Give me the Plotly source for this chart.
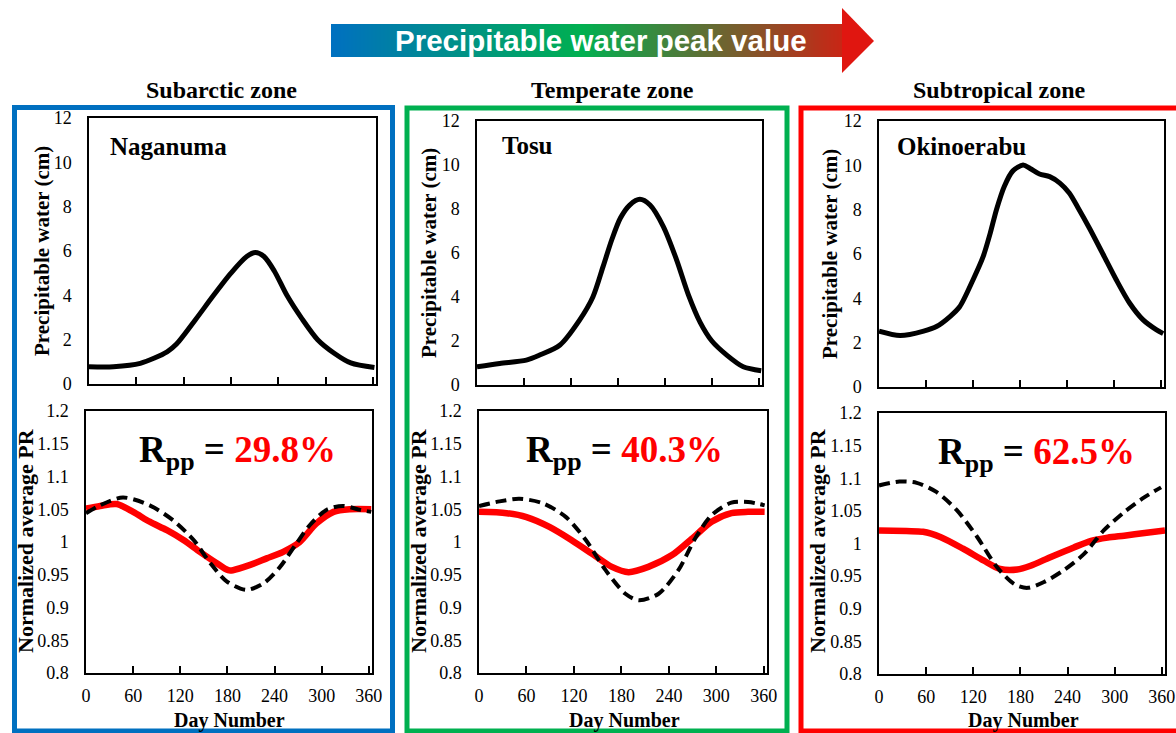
import plotly.graph_objects as go

W, H = 1176, 733

# ---------------- data ----------------
stations = ["Naganuma", "Tosu", "Okinoerabu"]
zones = ["Subarctic zone", "Temperate zone", "Subtropical zone"]
rpp_values = ["29.8%", "40.3%", "62.5%"]

x_tick_vals = [0, 60, 120, 180, 240, 300, 360]
pw_tick_vals = [0, 2, 4, 6, 8, 10, 12]
pr_tick_vals = [0.8, 0.85, 0.9, 0.95, 1.0, 1.05, 1.1, 1.15, 1.2]
pr_tick_text = ["0.8", "0.85", "0.9", "0.95", "1", "1.05", "1.1", "1.15", "1.2"]

# Precipitable water (cm)
nag_pw_day = [0, 31, 65, 99, 111, 135, 158, 180, 200, 211, 222, 235, 251, 270, 290, 311, 332, 362]
nag_pw = [0.78, 0.78, 0.93, 1.45, 1.8, 2.9, 4.0, 5.0, 5.75, 5.93, 5.75, 5.1, 4.0, 2.95, 2.0, 1.39, 0.95, 0.74]

tosu_pw_day = [0, 29, 63, 80, 106, 131, 148, 161, 172, 183, 195, 208, 221, 238, 255, 270, 285, 300, 319, 340, 363]
tosu_pw = [0.83, 0.98, 1.13, 1.36, 1.82, 2.95, 4.0, 5.38, 6.59, 7.58, 8.18, 8.44, 8.18, 7.2, 5.68, 4.1, 2.85, 2.0, 1.36, 0.83, 0.65]

oki_pw_day = [0, 27, 57, 74, 91, 103, 120, 133, 142, 150, 160, 171, 184, 193, 205, 218, 231, 243, 254, 269, 286, 303, 320, 337, 354, 363]
oki_pw = [2.52, 2.32, 2.52, 2.74, 3.19, 3.62, 4.83, 5.88, 6.93, 8.0, 9.05, 9.75, 10.01, 9.86, 9.61, 9.49, 9.2, 8.75, 8.1, 7.15, 6.0, 4.84, 3.79, 3.04, 2.59, 2.41]

# Normalized average PR - red solid series
nag_red_day = [0, 18, 39, 60, 81, 103, 124, 145, 166, 181, 187, 209, 230, 251, 272, 293, 315, 336, 363]
nag_red = [1.051, 1.055, 1.058, 1.046, 1.031, 1.018, 1.003, 0.985, 0.968, 0.957, 0.957, 0.965, 0.975, 0.985, 1.0, 1.028, 1.046, 1.05, 1.05]
tosu_red_day = [0, 35, 60, 89, 118, 143, 168, 189, 214, 244, 269, 294, 319, 340, 361]
tosu_red = [1.046, 1.044, 1.038, 1.023, 1.002, 0.982, 0.962, 0.954, 0.962, 0.98, 1.005, 1.031, 1.044, 1.046, 1.046]
oki_red_day = [0, 35, 56, 78, 107, 133, 154, 176, 193, 218, 248, 270, 291, 312, 338, 364]
oki_red = [1.02, 1.019, 1.018, 1.01, 0.992, 0.974, 0.961, 0.96, 0.966, 0.979, 0.994, 1.004, 1.009, 1.012, 1.016, 1.02]

# Normalized average PR - black dashed series
nag_blk_day = [0, 18, 47, 81, 111, 137, 158, 179, 204, 226, 247, 268, 285, 306, 327, 349, 363]
nag_blk = [1.044, 1.056, 1.068, 1.056, 1.033, 1.003, 0.968, 0.94, 0.927, 0.937, 0.962, 0.998, 1.026, 1.049, 1.055, 1.049, 1.046]
tosu_blk_day = [0, 26, 51, 81, 110, 135, 160, 185, 202, 227, 252, 273, 294, 319, 340, 361]
tosu_blk = [1.055, 1.062, 1.066, 1.059, 1.038, 1.003, 0.957, 0.921, 0.911, 0.921, 0.957, 1.005, 1.041, 1.06, 1.061, 1.056]
oki_blk_day = [0, 26, 48, 73, 99, 125, 150, 172, 189, 210, 235, 261, 286, 312, 338, 359]
oki_blk = [1.089, 1.095, 1.093, 1.079, 1.051, 1.01, 0.964, 0.938, 0.932, 0.941, 0.959, 0.984, 1.02, 1.048, 1.071, 1.086]

pw_days = [nag_pw_day, tosu_pw_day, oki_pw_day]
pw_vals = [nag_pw, tosu_pw, oki_pw]
red_days = [nag_red_day, tosu_red_day, oki_red_day]
red_vals = [nag_red, tosu_red, oki_red]
blk_days = [nag_blk_day, tosu_blk_day, oki_blk_day]
blk_vals = [nag_blk, tosu_blk, oki_blk]

# ---------------- layout geometry (pixels) ----------------
top_boxes = [(89, 376, 118, 384), (477, 762, 121, 385), (879, 1164, 121, 387)]
bot_boxes = [(86, 372, 411, 673), (479, 767, 411, 673), (879, 1165, 413, 674)]
frames = [(14.5, 392.5, 107.5, 731, "#0070C0"), (407, 787, 108, 731, "#00B050"), (801, 1180, 108, 731, "#FF0000")]
zone_x = [222, 612, 999]
name_pos = [(108, 146), (500, 145), (895, 146)]
rpp_pos = [(237, 452), (624, 452), (1036, 454)]
pw_label_x = [42, 429, 830]
pr_label_x = [25, 418, 817]
day_label_x = [229, 624, 1023]

SERIF = "Liberation Serif"


def px(x):
    return x / W


def py(y):
    return 1 - y / H


fig = go.Figure()
layout = dict(
    width=W, height=H, autosize=False,
    margin=dict(l=0, r=0, t=0, b=0, pad=0, autoexpand=False),
    paper_bgcolor="white", plot_bgcolor="white",
    showlegend=False,
)

axis_common = dict(showline=True, mirror=True, linecolor="black", linewidth=1.5,
                   showgrid=False, zeroline=False, automargin=False,
                   tickfont=dict(family=SERIF, size=18, color="black"))

annotations = []
shapes = []

for i in range(3):
    ti = 2 * i + 1
    bi = 2 * i + 2
    tx = "x" if ti == 1 else f"x{ti}"
    ty = "y" if ti == 1 else f"y{ti}"
    bx = f"x{bi}"
    by = f"y{bi}"
    tkx = "xaxis" if ti == 1 else f"xaxis{ti}"
    tky = "yaxis" if ti == 1 else f"yaxis{ti}"
    bkx = f"xaxis{bi}"
    bky = f"yaxis{bi}"

    x0, x1, y0, y1 = top_boxes[i]
    layout[tkx] = dict(axis_common, domain=[px(x0), px(x1)], range=[0, 364], anchor=ty,
                       tickvals=x_tick_vals, ticks="inside", ticklen=7, tickwidth=1.5,
                       tickcolor="black", showticklabels=False)
    layout[tky] = dict(axis_common, domain=[py(y1), py(y0)], range=[0, 12], anchor=tx,
                       tickvals=pw_tick_vals, ticks="", ticklabelstandoff=12)

    x0, x1, y0, y1 = bot_boxes[i]
    layout[bkx] = dict(axis_common, domain=[px(x0), px(x1)], range=[0, 364], anchor=by,
                       tickvals=x_tick_vals, ticks="inside", ticklen=7, tickwidth=1.5,
                       tickcolor="black", ticklabelstandoff=6)
    layout[bky] = dict(axis_common, domain=[py(y1), py(y0)], range=[0.8, 1.2], anchor=bx,
                       tickvals=pr_tick_vals, ticktext=pr_tick_text, ticks="", ticklabelstandoff=12)

    fig.add_trace(go.Scatter(x=pw_days[i], y=pw_vals[i], mode="lines", xaxis=tx, yaxis=ty,
                             line=dict(color="black", width=5, shape="spline", smoothing=0.8)))
    fig.add_trace(go.Scatter(x=red_days[i], y=red_vals[i], mode="lines", xaxis=bx, yaxis=by,
                             line=dict(color="#FF0000", width=6.5, shape="spline", smoothing=0.8)))
    fig.add_trace(go.Scatter(x=blk_days[i], y=blk_vals[i], mode="lines", xaxis=bx, yaxis=by,
                             line=dict(color="black", width=4, dash="11px,6px", shape="spline", smoothing=0.8)))

    # frames
    fx0, fx1, fy0, fy1, fc = frames[i]
    shapes.append(dict(type="rect", xref="paper", yref="paper", x0=px(fx0), x1=px(fx1),
                       y0=py(fy1), y1=py(fy0), line=dict(color=fc, width=5), fillcolor="rgba(0,0,0,0)"))

    # zone titles
    annotations.append(dict(text=f"<b>{zones[i]}</b>", x=px(zone_x[i]), y=py(90), xref="paper", yref="paper",
                            showarrow=False, xanchor="center", yanchor="middle",
                            font=dict(family=SERIF, size=24, color="black")))
    # station names
    nx, ny = name_pos[i]
    annotations.append(dict(text=f"<b>{stations[i]}</b>", x=px(nx), y=py(ny), xref="paper", yref="paper",
                            showarrow=False, xanchor="left", yanchor="middle",
                            font=dict(family=SERIF, size=25, color="black")))
    # Rpp
    rx, ry = rpp_pos[i]
    annotations.append(dict(text=f"<b>R<sub>pp</sub> = <span style='color:#FF0000'>{rpp_values[i]}</span></b>",
                            x=px(rx), y=py(ry), xref="paper", yref="paper",
                            showarrow=False, xanchor="center", yanchor="middle",
                            font=dict(family=SERIF, size=37, color="black")))
    # axis titles
    annotations.append(dict(text="<b>Precipitable water (cm)</b>", x=px(pw_label_x[i]),
                            y=py((top_boxes[i][2] + top_boxes[i][3]) / 2), xref="paper", yref="paper",
                            showarrow=False, textangle=-90, xanchor="center", yanchor="middle",
                            font=dict(family=SERIF, size=21, color="black")))
    annotations.append(dict(text="<b>Normalized average PR</b>", x=px(pr_label_x[i]),
                            y=py(541), xref="paper", yref="paper",
                            showarrow=False, textangle=-90, xanchor="center", yanchor="middle",
                            font=dict(family=SERIF, size=22, color="black")))
    annotations.append(dict(text="<b>Day Number</b>", x=px(day_label_x[i]), y=py(734), xref="paper", yref="paper",
                            showarrow=False, xanchor="center", yanchor="bottom",
                            font=dict(family=SERIF, size=20, color="black")))

# ---------------- gradient arrow (decoration) ----------------
def lerp(c1, c2, t):
    return tuple(int(round(a + (b - a) * t)) for a, b in zip(c1, c2))

c_blue = (0, 112, 192)
c_green = (0, 176, 80)
c_red = (226, 20, 14)

ax0, ax_base, ax_tip = 331, 842, 874
ry0, ry1 = 24, 57
hy0, hy1, hy_mid = 8, 73, 41
step = 2
xx = ax0
while xx < ax_base:
    t = (xx - ax0) / (ax_tip - ax0)
    if t < 0.46:
        c = lerp(c_blue, c_green, t / 0.46)
    else:
        c = lerp(c_green, c_red, (t - 0.46) / 0.54)
    shapes.append(dict(type="rect", xref="paper", yref="paper", x0=px(xx), x1=px(min(xx + step + 0.6, ax_base + 0.5)),
                       y0=py(ry1), y1=py(ry0), line=dict(width=0), fillcolor=f"rgb{c}", layer="below"))
    xx += step

shapes.append(dict(type="path", xref="paper", yref="paper",
                   path=f"M {px(ax_base)} {py(hy0)} L {px(ax_tip)} {py(hy_mid)} L {px(ax_base)} {py(hy1)} Z",
                   line=dict(width=0), fillcolor="rgb(224,22,16)", layer="below"))

annotations.append(dict(text="<b>Precipitable water peak value</b>", x=px(601), y=py(41), xref="paper", yref="paper",
                        showarrow=False, xanchor="center", yanchor="middle",
                        font=dict(family="Liberation Sans", size=29.5, color="white")))

layout["annotations"] = annotations
layout["shapes"] = shapes
fig.update_layout(**layout)

fig.write_html(
    "out.html",
    config={"displayModeBar": False},
    post_script="document.body.style.margin='0';document.body.style.padding='0';"
                "document.body.style.overflow='hidden';",
)
